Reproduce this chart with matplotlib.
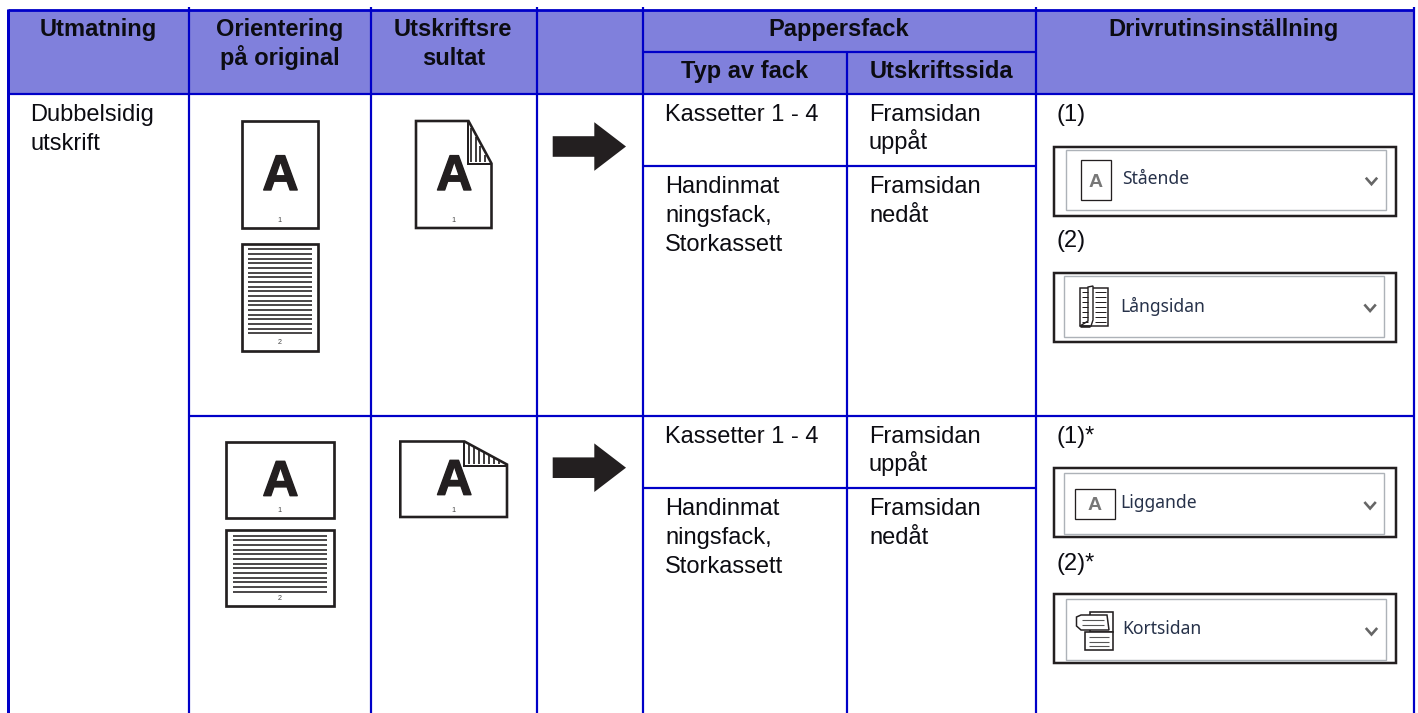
import matplotlib
matplotlib.use("Agg")
import matplotlib.pyplot as plt
from matplotlib.patches import Rectangle, Polygon
import matplotlib.patheffects as pe

# ---- table content ----
headers = ["Utmatning", "Orientering\npå original", "Utskriftsre\nsultat", "Drivrutinsinställning"]
group_header = "Pappersfack"
sub_headers = ["Typ av fack", "Utskriftssida"]
row_label = ["Dubbelsidig", "utskrift"]
tray_top = "Kassetter 1 - 4"
tray_bottom = ["Handinmat", "ningsfack,", "Storkassett"]
side_top = ["Framsidan", "uppåt"]
side_bottom = ["Framsidan", "nedåt"]
setting_labels = ["(1)", "(2)", "(1)*", "(2)*"]
driver_options = ["Stående", "Långsidan", "Liggande", "Kortsidan"]

BLUE = "#0000C8"
HEAD = "#8080DC"
INK = "#231F20"
TXT = "#0C0C12"
FS = 17.0

plt.rcParams["font.family"] = ["Liberation Sans", "DejaVu Sans"]
fig = plt.figure(figsize=(14.18, 7.13), dpi=100)
ax = fig.add_axes([0, 0, 1, 1])
ax.set_xlim(0, 1418)
ax.set_ylim(713, 0)
ax.axis("off")


def lw(px):
    return px * 0.72


def line(xs, ys, c=BLUE, w=2.2, z=3, cap="butt"):
    ax.plot(xs, ys, color=c, lw=lw(w), zorder=z, solid_capstyle=cap, solid_joinstyle="miter")


def rect(x0, y0, x1, y1, ec=INK, w=2.7, fc="white", z=4):
    ax.add_patch(Rectangle((x0, y0), x1 - x0, y1 - y0, ec=ec, fc=fc, lw=lw(w), zorder=z,
                           joinstyle="miter"))


def txt(x, y, s, bold=False, ha="left", size=FS, c=TXT, **kw):
    ax.text(x, y, s, fontsize=size, fontweight="bold" if bold else "normal", ha=ha,
            va="baseline", color=c, zorder=6, **kw)


# header band
ax.add_patch(Rectangle((7.5, 9.5), 1406, 84.5, fc=HEAD, ec="none", zorder=1))

# grid
line([7.5, 7.5], [8.5, 713], w=3.0)
line([7.5, 1414], [9.5, 9.5], w=2.8)
for x in (189, 371, 537, 643, 1036, 1413.5):
    line([x, x], [7, 713])
line([847, 847], [52, 713])
line([7.5, 1414], [94, 94])
line([643, 1036], [52, 52])
line([643, 1036], [165.5, 165.5])
line([189, 1414], [416, 416])
line([643, 1036], [488, 488])

# header text
txt(98, 36, "Utmatning", True, "center")
for cx, parts in ((279.5, headers[1]), (453.3, headers[2])):
    for i, s in enumerate(parts.split("\n")):
        txt(cx, 36 + 29 * i, s, True, "center")
txt(1224, 36, headers[3], True, "center")
txt(839, 36, group_header, True, "center")
txt(745, 77.7, sub_headers[0], True, "center")
txt(941, 77.7, sub_headers[1], True, "center")

# first column
txt(30, 120.7, row_label[0])
txt(30, 149.5, row_label[1])

# tray columns for both rows
for dy in (0, 322):
    txt(665, 120.7 + dy, tray_top)
    txt(869, 120.7 + dy, side_top[0])
    txt(869, 149.5 + dy, side_top[1])
    for i, s in enumerate(tray_bottom):
        txt(665, 192.7 + 29 * i + dy, s)
    txt(869, 192.7 + dy, side_bottom[0])
    txt(869, 221.5 + dy, side_bottom[1])

# setting labels
for (x, y), s in zip(((1057, 120.7), (1057, 246.7), (1057, 442.7), (1057, 570)), setting_labels):
    txt(x, y, s)


def big_a(cx, base):
    ax.text(cx, base, "A", fontsize=36, fontweight="bold", ha="center", va="baseline", color=INK,
            zorder=6, path_effects=[pe.withStroke(linewidth=1.0, foreground=INK)])


def num(cx, y, s):
    ax.text(cx, y, s, fontsize=5.2, ha="center", va="center", color="#444444", zorder=6)


def text_page(x0, y0, x1, y1, lx0, lx1, ly0, n, nx, ny):
    rect(x0, y0, x1, y1)
    for i in range(n):
        y = ly0 + i * 4.67
        line([lx0, lx1], [y, y], c=INK, w=1.6, z=5)
    num(nx, ny, "2")


def arrow(ymid):
    pts = [(552.7, ymid - 10.3), (594.3, ymid - 10.3), (594.3, ymid - 24.3), (626, ymid),
           (594.3, ymid + 24.3), (594.3, ymid + 10.3), (552.7, ymid + 10.3)]
    ax.add_patch(Polygon(pts, closed=True, fc=INK, ec="none", zorder=5))


# portrait originals
rect(241.5, 121, 318.3, 228)
big_a(280.5, 190)
num(279.5, 220, "1")
text_page(241.5, 244, 318.3, 351, 247.7, 312, 249.3, 19, 279.5, 342)

# portrait result with folded corner
ax.add_patch(Polygon([(416, 121), (468.5, 121), (491.5, 163.5), (491.5, 228), (416, 228)],
                     closed=True, fc="white", ec=INK, lw=lw(2.6), zorder=4))
line([467.6, 467.6, 491.5], [121, 163.5, 163.5], c=INK, w=2.0, z=5)
for x, yb in ((470.5, 128), (475.5, 137), (480.3, 146), (485.2, 155)):
    line([x, x], [yb, 161.5], c=INK, w=1.7, z=5)
big_a(454.3, 190)
num(453.5, 220, "1")

# landscape originals
rect(226, 442, 333.5, 518)
big_a(280.5, 495.7)
num(279.5, 511, "1")
text_page(226, 529.5, 333.5, 605.5, 232.7, 326.7, 535.7, 13, 279.5, 598)

# landscape result with folded corner
ax.add_patch(Polygon([(400.3, 441.5), (464.5, 441.5), (507, 464.5), (507, 517), (400.3, 517)],
                     closed=True, fc="white", ec=INK, lw=lw(2.6), zorder=4))
line([463.6, 463.6, 507], [441.5, 465.6, 465.6], c=INK, w=2.0, z=5)
for x, yt in ((468.5, 444), (473.5, 446.5), (478.5, 449.5), (483.5, 452), (488.5, 455), (493.5, 458), (498.5, 460.5)):
    line([x, x], [yt, 463.5], c=INK, w=1.7, z=5)
big_a(454.3, 494.7)
num(453.5, 510, "1")

arrow(146.5)
arrow(467.7)


def driver_box(y0, y1, ix0, ix1, iy0, iy1, s, tx, ty, chev_x, chev_y):
    rect(1053.5, y0, 1396, y1, w=2.5, z=3)
    rect(ix0, iy0, ix1, iy1, ec="#ADB2B8", w=1.4, z=3.5)
    ax.text(tx, ty, s, fontsize=12.6, family=["Noto Sans", "DejaVu Sans"], ha="left", va="center",
            color="#27324A", zorder=6)
    line([chev_x, chev_x + 5.7, chev_x + 11.4], [chev_y, chev_y + 6.5, chev_y], c="#666666", w=2.6, z=6)


driver_box(147, 216, 1066, 1385.7, 150, 210.3, driver_options[0], 1122, 179, 1365.8, 177.7)
driver_box(272.5, 341.7, 1064.3, 1384, 276, 337.3, driver_options[1], 1120.5, 306, 1364.4, 304.5)
driver_box(467.5, 537, 1064.3, 1384, 473.3, 534, driver_options[2], 1120.5, 503, 1364.4, 502)
driver_box(593.5, 663, 1066, 1385.7, 599.3, 659.7, driver_options[3], 1122, 629, 1365.8, 628)

# page icons inside the driver boxes
rect(1081, 160, 1111, 200, w=1.3, z=5)
ax.text(1096, 187, "A", fontsize=14, fontweight="bold", ha="center", va="baseline", color="#777777", zorder=6)
rect(1074.8, 489, 1114.5, 518.5, w=1.3, z=5)
ax.text(1094.5, 510, "A", fontsize=14, fontweight="bold", ha="center", va="baseline", color="#777777", zorder=6)

# long-edge binding icon
rect(1080, 288, 1108, 326, w=1.5, z=5)
ax.add_patch(Polygon([(1088, 287), (1093, 286), (1093, 320), (1091, 326), (1080, 326), (1088, 321)],
                     closed=True, fc="white", ec=INK, lw=lw(1.4), zorder=5.5))
for y in (292, 297, 302, 307, 312, 317, 322):
    line([1082, 1088], [y, y], c=INK, w=1.0, z=6)
    line([1095, 1106], [y, y], c=INK, w=1.0, z=6)
line([1080, 1090], [326, 326], c=INK, w=2.6, z=6)

# short-edge binding icon
rect(1085, 632, 1113, 650, w=1.6, z=5)
rect(1090, 611.5, 1112.5, 632, w=1.6, z=4.8)
ax.add_patch(Polygon([(1076.5, 617), (1081, 615), (1107, 615), (1109, 630), (1081, 630), (1076.5, 626)],
                     closed=True, fc="white", ec=INK, lw=lw(1.5), zorder=5.5))
for y, x0, x1 in ((620, 1082, 1104), (625, 1082, 1104), (637, 1089, 1109), (642, 1089, 1109), (646, 1089, 1109)):
    line([x0, x1], [y, y], c="#555555", w=1.1, z=6)

fig.savefig("out.png", dpi=100)
